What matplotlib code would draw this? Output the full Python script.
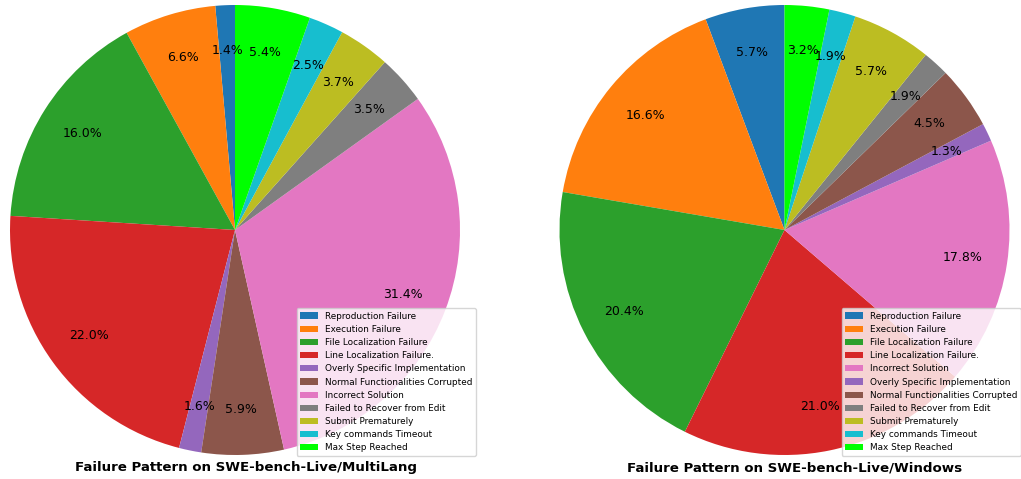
import matplotlib
matplotlib.use("Agg")
import matplotlib.pyplot as plt

labels_left = ["Reproduction Failure", "Execution Failure", "File Localization Failure",
               "Line Localization Failure.", "Overly Specific Implementation",
               "Normal Functionalities Corrupted", "Incorrect Solution",
               "Failed to Recover from Edit", "Submit Prematurely",
               "Key commands Timeout", "Max Step Reached"]
values_left = [1.4, 6.6, 16.0, 22.0, 1.6, 5.9, 31.4, 3.5, 3.7, 2.5, 5.4]

labels_right = ["Reproduction Failure", "Execution Failure", "File Localization Failure",
                "Line Localization Failure.", "Incorrect Solution",
                "Overly Specific Implementation", "Normal Functionalities Corrupted",
                "Failed to Recover from Edit", "Submit Prematurely",
                "Key commands Timeout", "Max Step Reached"]
values_right = [5.7, 16.6, 20.4, 21.0, 17.8, 1.3, 4.5, 1.9, 5.7, 1.9, 3.2]

title_left = "Failure Pattern on SWE-bench-Live/MultiLang"
title_right = "Failure Pattern on SWE-bench-Live/Windows"

color_map = {
    "Reproduction Failure": "#1f77b4",
    "Execution Failure": "#ff7f0e",
    "File Localization Failure": "#2ca02c",
    "Line Localization Failure.": "#d62728",
    "Overly Specific Implementation": "#9467bd",
    "Normal Functionalities Corrupted": "#8c564b",
    "Incorrect Solution": "#e377c2",
    "Failed to Recover from Edit": "#7f7f7f",
    "Submit Prematurely": "#bcbd22",
    "Key commands Timeout": "#17becf",
    "Max Step Reached": "#00ff00",
}

W, H = 1021, 479
fig = plt.figure(figsize=(W / 100, H / 100), dpi=100)

def draw(rect, labels, values, title, title_x, leg_anchor):
    ax = fig.add_axes(rect)
    ax.pie(values, colors=[color_map[l] for l in labels], startangle=90,
           autopct="%1.1f%%", pctdistance=0.8, textprops={"fontsize": 9})
    ax.set_xlim(-1, 1)
    ax.set_ylim(-1, 1)
    ax.set_aspect("equal")
    ax.legend(labels, loc="lower right", bbox_to_anchor=leg_anchor,
              bbox_transform=fig.transFigure, fontsize=6.4, frameon=True,
              borderaxespad=0, handlelength=2.0, labelspacing=0.47)
    fig.text(title_x, (H - 468) / H, title, ha="center", va="center",
             fontsize=9.6, fontweight="bold")

r = 225
draw([(235 - r) / W, (H - 230 - r) / H, 2 * r / W, 2 * r / H],
     labels_left, values_left, title_left, 245.5 / W, (476 / W, (H - 456) / H))
draw([(784.5 - r) / W, (H - 230 - r) / H, 2 * r / W, 2 * r / H],
     labels_right, values_right, title_right, 795 / W, (1021 / W, (H - 456) / H))

fig.savefig("out.png", dpi=100)
